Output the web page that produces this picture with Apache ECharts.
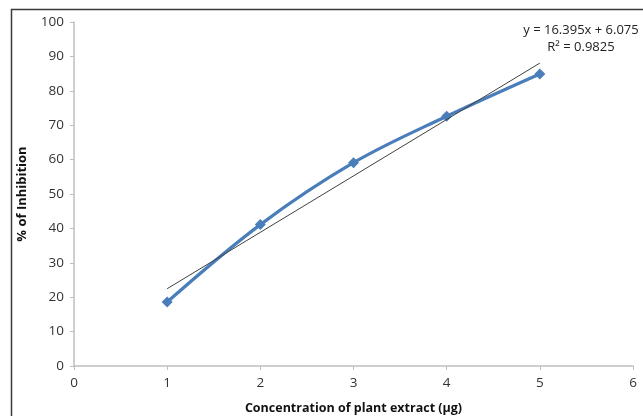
<!DOCTYPE html>
<html><head><meta charset="utf-8">
<script src="https://cdn.jsdelivr.net/npm/echarts@6/dist/echarts.min.js"></script>
<style>html,body{margin:0;padding:0;background:#fff}#c{width:643px;height:416px}</style>
</head><body><div id="c"></div>
<script>
const concentrations = [1, 2, 3, 4, 5];
const inhibition = [18.6, 41.1, 59.1, 72.6, 84.9];
const trendSlope = 16.395;
const trendIntercept = 6.075;
const equationText = 'y = 16.395x + 6.075';
const r2Text = 'R² = 0.9825';
const xTicks = [0, 1, 2, 3, 4, 5, 6];
const yTicks = [0, 10, 20, 30, 40, 50, 60, 70, 80, 90, 100];

const dataPts = concentrations.map((x, i) => [x, inhibition[i]]);
const xs = [concentrations[0], concentrations[concentrations.length - 1]];
const trendPts = xs.map(x => [x, trendSlope * x + trendIntercept]);

const chart = echarts.init(document.getElementById('c'), null, {renderer: 'canvas'});
const font = '"Open Sans", "Liberation Sans", sans-serif';
chart.setOption({
  animation: false,
  grid: {left: 74, right: 10, top: 22, bottom: 50, outerBoundsMode: 'none', containLabel: false},
  graphic: [
    {type: 'rect', shape: {x: 11.5, y: 9.5, width: 700, height: 500}, style: {fill: 'none', stroke: '#3a3a3a', lineWidth: 1.5}, silent: true, z: -1},
    {type: 'text', x: 581, y: 30, style: {text: equationText, font: '13px ' + font, fill: '#222', align: 'center', verticalAlign: 'middle'}},
    {type: 'text', x: 581, y: 47, style: {text: r2Text, font: '13px ' + font, fill: '#222', align: 'center', verticalAlign: 'middle'}}
  ],
  xAxis: {
    type: 'value', min: xTicks[0], max: xTicks[xTicks.length - 1], interval: 1,
    name: 'Concentration of plant extract (µg)', nameLocation: 'middle', nameGap: 36,
    nameTextStyle: {fontFamily: font, fontWeight: 'bold', fontSize: 12.5, color: '#111'},
    axisLine: {show: true, lineStyle: {color: '#bfbfbf', width: 1.5}},
    axisTick: {show: true, length: 4, lineStyle: {color: '#bfbfbf'}},
    axisLabel: {margin: 10, fontFamily: font, fontSize: 13.5, color: '#333'},
    splitLine: {show: false}
  },
  yAxis: {
    type: 'value', min: yTicks[0], max: yTicks[yTicks.length - 1], interval: 10,
    name: '% of Inhibition', nameLocation: 'middle', nameGap: 45, nameRotate: 90,
    nameTextStyle: {fontFamily: font, fontWeight: 'bold', fontSize: 13, color: '#111'},
    axisLine: {show: true, lineStyle: {color: '#bfbfbf', width: 1.5}},
    axisTick: {show: true, length: 4, lineStyle: {color: '#bfbfbf'}},
    axisLabel: {margin: 10, fontFamily: font, fontSize: 13.5, color: '#333'},
    splitLine: {show: false}
  },
  series: [
    {
      type: 'line', data: trendPts, symbol: 'none', z: 3,
      lineStyle: {color: '#404040', width: 1}
    },
    {
      type: 'line', data: dataPts, smooth: 0.35, symbol: 'diamond', symbolSize: 11, z: 2,
      lineStyle: {color: '#4a7ebb', width: 3.2},
      itemStyle: {color: '#4a7ebb'}
    }
  ]
});
</script></body></html>
